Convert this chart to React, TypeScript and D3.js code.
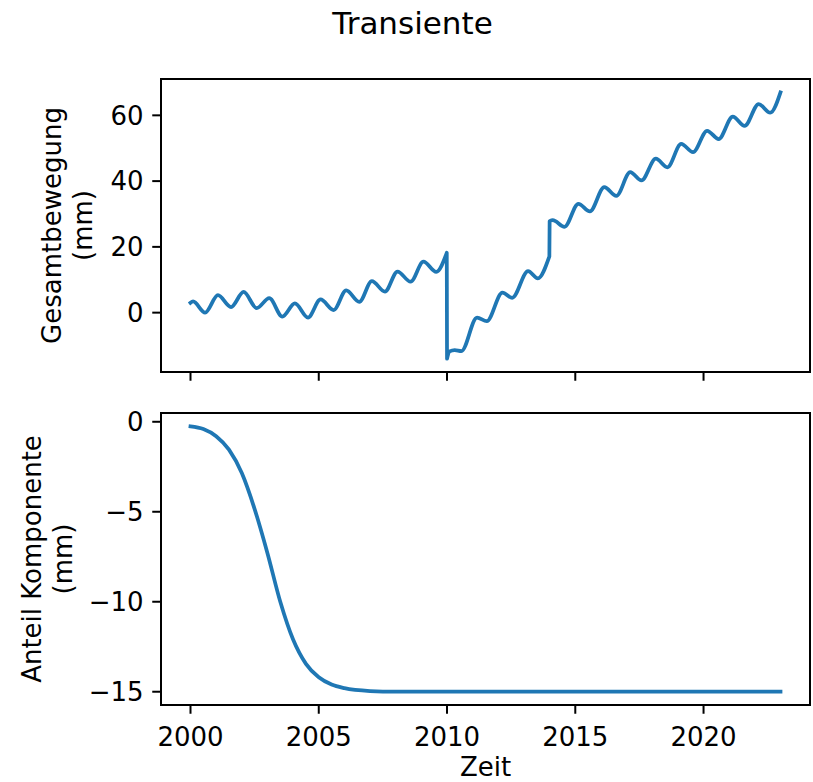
import React from "react";
import * as d3 from "d3";

// Gesamtbewegung (mm): years and values, two offsets at 2010 and 2014
const bewegungJahre = [
  2000.0, 2000.1, 2000.57, 2001.07, 2001.58, 2002.07, 2002.58, 2003.07, 2003.58,
  2004.07, 2004.58, 2005.07, 2005.58, 2006.07, 2006.58, 2007.07, 2007.58,
  2008.07, 2008.58, 2009.08, 2009.58, 2009.99,
  2010.0, 2010.1, 2010.3, 2010.56, 2011.17, 2011.55, 2012.16, 2012.54,
  2013.16, 2013.54, 2013.99,
  2014.0, 2014.12, 2014.58, 2015.12, 2015.57, 2016.13, 2016.6, 2017.14,
  2017.58, 2018.14, 2018.59, 2019.13, 2019.59, 2020.14, 2020.59, 2021.14,
  2021.6, 2022.15, 2022.6, 2023.0,
];
const bewegungWerte = [
  3.0, 3.4, 0.0, 5.3, 1.7, 6.3, 1.4, 4.4, -1.2,
  2.8, -1.5, 4.0, 0.8, 6.8, 3.3, 9.6, 6.4,
  12.5, 9.4, 15.5, 12.4, 18.2,
  -14.0, -11.8, -11.4, -11.7, -1.5, -2.6, 6.1, 4.5,
  12.6, 10.4, 17.1,
  27.8, 28.1, 26.1, 33.1, 30.8, 38.2, 35.5, 42.7,
  40.2, 46.8, 44.2, 51.3, 48.8, 55.3, 52.8, 59.6,
  56.8, 63.4, 60.8, 67.0,
];
const sprungJahre = [2010, 2014];

// Anteil der transienten Komponente (mm)
const komponenteJahre = [
  2000.0, 2000.5, 2001.0, 2001.5, 2002.0, 2002.5, 2003.0, 2003.5, 2004.0,
  2004.5, 2005.0, 2005.5, 2006.0, 2007.0, 2008.0, 2010.0, 2015.0, 2020.0, 2023.0,
];
const komponenteWerte = [
  -0.25, -0.4, -0.8, -1.55, -2.85, -4.85, -7.3, -10.0, -12.1,
  -13.45, -14.2, -14.6, -14.8, -14.96, -15.0, -15.0, -15.0, -15.0, -15.0,
];

const xTicks = [2000, 2005, 2010, 2015, 2020];
const yTicksOben = [0, 20, 40, 60];
const yTicksUnten = [0, -5, -10, -15];

const W = 813;
const H = 782;
const FONT = "DejaVu Sans, sans-serif";
const BLUE = "#1f77b4";
const TICK = 8.75;
const PAD = 8.75;

const left = 161;
const right = 810;
const oben = { top: 79, bottom: 372 };
const unten = { top: 413, bottom: 705 };

function padded(vals: number[]): [number, number] {
  const [lo, hi] = d3.extent(vals) as [number, number];
  const m = (hi - lo) * 0.05;
  return [lo - m, hi + m];
}

const fmt = (v: number) => String(v).replace("-", "\u2212");

export default function App() {
  const x = d3
    .scaleLinear()
    .domain(padded([...bewegungJahre, ...komponenteJahre]))
    .range([left, right]);
  const yOben = d3
    .scaleLinear()
    .domain(padded(bewegungWerte))
    .range([oben.bottom, oben.top]);
  const yUnten = d3
    .scaleLinear()
    .domain(padded(komponenteWerte))
    .range([unten.bottom, unten.top]);

  // split the total-motion series at the offsets, draw each piece smoothly
  const pts = bewegungJahre.map((t, i) => [t, bewegungWerte[i]] as [number, number]);
  const segs: [number, number][][] = [[]];
  pts.forEach((p, i) => {
    if (i > 0 && sprungJahre.some((s) => pts[i - 1][0] < s && p[0] >= s)) segs.push([]);
    segs[segs.length - 1].push(p);
  });
  const lineOben = d3
    .line<[number, number]>()
    .x((d) => x(d[0]))
    .y((d) => yOben(d[1]))
    .curve(d3.curveMonotoneX);
  const pathOben = segs
    .map((s, i) => {
      const p = lineOben(s) || "";
      return i === 0 ? p : p.replace(/^M/, "L");
    })
    .join("");

  const lineUnten = d3
    .line<number>()
    .x((_, i) => x(komponenteJahre[i]))
    .y((d) => yUnten(d))
    .curve(d3.curveMonotoneX);
  const pathUnten = lineUnten(komponenteWerte) || "";

  const axesFrame = (box: { top: number; bottom: number }) => (
    <rect
      x={left}
      y={box.top}
      width={right - left}
      height={box.bottom - box.top}
      fill="none"
      stroke="#000"
      strokeWidth={2}
    />
  );

  const yAxis = (
    ticks: number[],
    scale: d3.ScaleLinear<number, number>
  ) =>
    ticks.map((t) => (
      <g key={t}>
        <line x1={left - TICK} x2={left} y1={scale(t)} y2={scale(t)} stroke="#000" strokeWidth={2} />
        <text
          x={left - TICK - PAD}
          y={scale(t)}
          dy="0.36em"
          textAnchor="end"
          fontSize={26}
          fontFamily={FONT}
          fill="#000"
        >
          {fmt(t)}
        </text>
      </g>
    ));

  const xTickMarks = (bottom: number, labels: boolean) =>
    xTicks.map((t) => (
      <g key={t}>
        <line x1={x(t)} x2={x(t)} y1={bottom} y2={bottom + TICK} stroke="#000" strokeWidth={2} />
        {labels && (
          <text x={x(t)} y={746} textAnchor="middle" fontSize={26} fontFamily={FONT} fill="#000">
            {t}
          </text>
        )}
      </g>
    ));

  const yLabel = (lines: string[], bases: number[], yc: number) =>
    lines.map((l, i) => (
      <text
        key={i}
        transform={`translate(${bases[i]},${yc}) rotate(-90)`}
        textAnchor="middle"
        fontSize={26}
        fontFamily={FONT}
        fill="#000"
      >
        {l}
      </text>
    ));

  return (
    <svg
      width={W}
      height={H}
      style={{ position: "absolute", left: 0, top: 0, background: "#fff" }}
    >
      <rect width={W} height={H} fill="#fff" />
      <text x={412.5} y={34} textAnchor="middle" fontSize={31} fontFamily={FONT} fill="#000">
        Transiente
      </text>

      {/* upper panel */}
      <path d={pathOben} fill="none" stroke={BLUE} strokeWidth={3.75} strokeLinejoin="round" strokeLinecap="square" />
      {axesFrame(oben)}
      {yAxis(yTicksOben, yOben)}
      {xTickMarks(oben.bottom, false)}
      {yLabel(["Gesamtbewegung", "(mm)"], [61, 92], (oben.top + oben.bottom) / 2)}

      {/* lower panel */}
      <path d={pathUnten} fill="none" stroke={BLUE} strokeWidth={3.75} strokeLinejoin="round" strokeLinecap="square" />
      {axesFrame(unten)}
      {yAxis(yTicksUnten, yUnten)}
      {xTickMarks(unten.bottom, true)}
      {yLabel(["Anteil Komponente", "(mm)"], [41, 72], (unten.top + unten.bottom) / 2)}

      <text x={(left + right) / 2} y={776} textAnchor="middle" fontSize={26} fontFamily={FONT} fill="#000">
        Zeit
      </text>
    </svg>
  );
}
